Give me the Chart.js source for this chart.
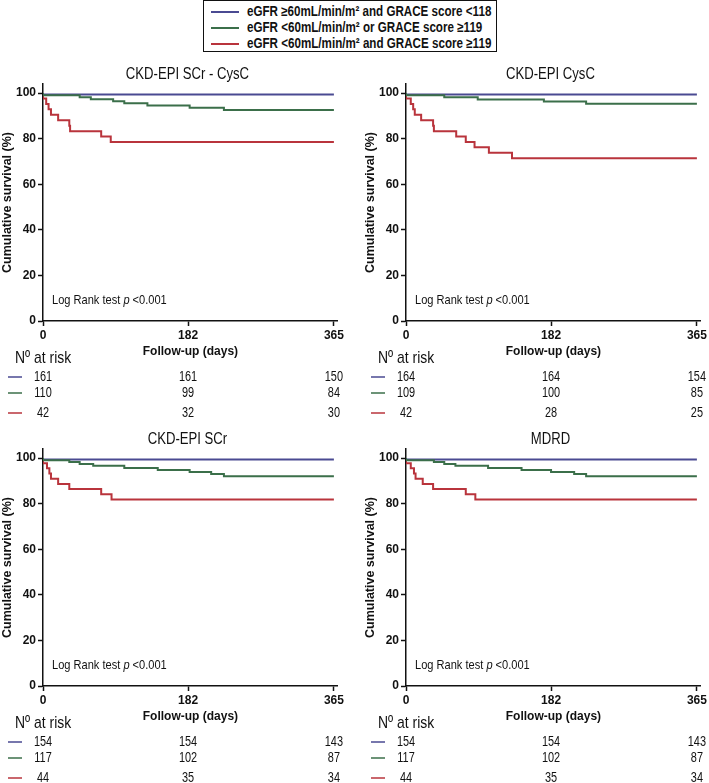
<!DOCTYPE html>
<html>
<head>
<meta charset="utf-8">
<script src="https://cdn.jsdelivr.net/npm/chart.js@4.4.1/dist/chart.umd.min.js"></script>
<style>
  html, body { margin: 0; padding: 0; background: #fff; }
  body { width: 709px; height: 783px; position: relative; overflow: hidden; }
  .panel { position: absolute; }
  #legend {
    position: absolute; left: 203px; top: 0px; width: 292px; height: 50px;
    border: 1.5px solid #111; background: #fff;
    font-family: "Liberation Sans", Arial, sans-serif;
    font-weight: bold; font-size: 14px; color: #111;
  }
  .lg-row { position: absolute; left: 0; height: 16px; line-height: 16px; white-space: nowrap; }
  .lg-swatch { position: absolute; left: 7px; top: 8px; width: 28px; height: 1.6px; }
  .lg-text { position: absolute; left: 43px; top: 0; transform: scaleX(0.83); transform-origin: 0 50%; }
</style>
</head>
<body>
<div id="legend"></div>
<canvas id="c0" class="panel"></canvas>
<canvas id="c1" class="panel"></canvas>
<canvas id="c2" class="panel"></canvas>
<canvas id="c3" class="panel"></canvas>
<script>
// series labels and colours (legend order)
const seriesLabels = [
  "eGFR \u226560mL/min/m\u00b2 and GRACE score <118",
  "eGFR <60mL/min/m\u00b2 or GRACE score \u2265119",
  "eGFR <60mL/min/m\u00b2 and GRACE score \u2265119",
];
const seriesColors = ["#4a4a92", "#3b6f4a", "#b9343c"];

const panelTitles = ["CKD-EPI SCr - CysC", "CKD-EPI CysC", "CKD-EPI SCr", "MDRD"];
const xTicks = [0, 182, 365];
const yTicks = [0, 20, 40, 60, 80, 100];

// Kaplan-Meier steps, [day, survival %]
const scrCysBlue = [[0, 100], [263, 99.4], [365, 99.4]];
const scrCysGreen = [[0, 100], [46, 99.1], [60, 98.2], [88, 97.3], [102, 96.4], [131, 95.5], [184, 94.6], [227, 93.6], [261, 92.6], [365, 92.6]];
const scrCysRed = [[0, 100], [4, 97.6], [7, 95.2], [10, 92.9], [19, 90.5], [33, 88.1], [34, 85.7], [73, 83.3], [85, 81.0], [212, 78.6], [365, 78.6]];

const cysBlue = [[0, 100], [264, 99.4], [365, 99.4]];
const cysGreen = [[0, 100], [48, 99.1], [90, 98.2], [173, 97.2], [226, 96.3], [262, 95.3], [365, 95.3]];
const cysRed = [[0, 100], [6, 97.6], [9, 95.2], [11, 92.9], [19, 90.5], [34, 88.1], [35, 85.7], [63, 83.3], [75, 81.0], [86, 78.6], [104, 76.2], [133, 73.8], [212, 71.4], [365, 71.4]];

const scrBlue = [[0, 100], [263, 99.4], [365, 99.4]];
const scrGreen = [[0, 100], [33, 99.1], [46, 98.3], [63, 97.4], [102, 96.6], [144, 95.7], [184, 94.8], [211, 93.9], [227, 93.0], [263, 92.0], [365, 92.0]];
const scrRed = [[0, 100], [5, 97.7], [8, 95.5], [10, 93.2], [19, 90.9], [33, 88.6], [73, 86.4], [86, 84.1], [89, 81.8], [365, 81.8]];

const mdrdBlue = [[0, 100], [263, 99.4], [365, 99.4]];
const mdrdGreen = [[0, 100], [35, 99.1], [48, 98.3], [62, 97.4], [103, 96.6], [145, 95.7], [182, 94.8], [211, 93.9], [226, 93.0], [261, 92.0], [365, 92.0]];
const mdrdRed = [[0, 100], [6, 97.7], [10, 95.5], [12, 93.2], [21, 90.9], [34, 88.6], [75, 86.4], [87, 84.1], [90, 81.8], [365, 81.8]];

// number at risk at days 0 / 182 / 365
const scrCysRisk = [[161, 161, 150], [110, 99, 84], [42, 32, 30]];
const cysRisk = [[164, 164, 154], [109, 100, 85], [42, 28, 25]];
const scrRisk = [[154, 154, 143], [117, 102, 87], [44, 35, 34]];
const mdrdRisk = [[154, 154, 143], [117, 102, 87], [44, 35, 34]];

const SANS = '"Liberation Sans", Arial, sans-serif';

const panels = [
  { id: "c0", left: 0, top: 60, title: panelTitles[0], series: [scrCysBlue, scrCysGreen, scrCysRed], risk: scrCysRisk },
  { id: "c1", left: 363, top: 60, title: panelTitles[1], series: [cysBlue, cysGreen, cysRed], risk: cysRisk },
  { id: "c2", left: 0, top: 425, title: panelTitles[2], series: [scrBlue, scrGreen, scrRed], risk: scrRisk },
  { id: "c3", left: 363, top: 425, title: panelTitles[3], series: [mdrdBlue, mdrdGreen, mdrdRed], risk: mdrdRisk },
];

// legend box
const legendEl = document.getElementById("legend");
seriesLabels.forEach((label, i) => {
  const row = document.createElement("div");
  row.className = "lg-row";
  row.style.top = (2 + i * 16) + "px";
  row.innerHTML = `<span class="lg-swatch" style="background:${seriesColors[i]}"></span><span class="lg-text"></span>`;
  row.querySelector(".lg-text").textContent = label;
  legendEl.appendChild(row);
});

// no narrow font installed: squeeze Liberation Sans horizontally
function narrowText(ctx, text, x, y, align, font, sx) {
  ctx.save();
  ctx.font = font;
  ctx.textAlign = align;
  ctx.translate(x, y);
  ctx.scale(sx, 1);
  ctx.fillText(text, 0, 0);
  ctx.restore();
}

// titles, p-value, axis caption and at-risk table
const annotations = {
  id: "annotations",
  afterDraw(chart, args, opts) {
    const { ctx, chartArea } = chart;
    const xs = chart.scales.x;
    const axisX = chartArea.left;
    const midX = (chartArea.left + chartArea.right) / 2;
    ctx.save();
    ctx.fillStyle = "#111";
    ctx.textBaseline = "middle";

    narrowText(ctx, opts.title, midX - 3, 15, "center", "16px " + SANS, 0.82);

    // Log Rank test p <0.001
    const sx = 0.82;
    const x0 = axisX + 9;
    ctx.font = "13.5px " + SANS;
    const a = "Log Rank test ";
    const wa = ctx.measureText(a).width * sx;
    narrowText(ctx, a, x0, 240, "left", "13.5px " + SANS, sx);
    ctx.font = "italic 13.5px " + SANS;
    const wp = ctx.measureText("p ").width * sx;
    narrowText(ctx, "p", x0 + wa, 240, "left", "italic 13.5px " + SANS, sx);
    narrowText(ctx, "<0.001", x0 + wa + wp, 240, "left", "13.5px " + SANS, sx);

    ctx.textAlign = "center";
    ctx.font = "bold 12px " + SANS;
    ctx.fillText("Follow-up (days)", midX, 292);

    narrowText(ctx, "N\u00ba at risk", axisX - 28, 298, "left", "17px " + SANS, 0.82);

    const rowY = [317, 333, 353];
    opts.risk.forEach((row, i) => {
      ctx.strokeStyle = seriesColors[i];
      ctx.lineWidth = 1.5;
      ctx.beginPath();
      ctx.moveTo(axisX - 35, rowY[i]);
      ctx.lineTo(axisX - 21, rowY[i]);
      ctx.stroke();
      row.forEach((n, j) => {
        narrowText(ctx, String(n), xs.getPixelForValue(xTicks[j]), rowY[i], "center", "14px " + SANS, 0.78);
      });
    });
    ctx.restore();
  },
};

function makeChart(p) {
  const canvas = document.getElementById(p.id);
  canvas.style.left = p.left + "px";
  canvas.style.top = p.top + "px";
  canvas.width = 346;
  canvas.height = 362;

  const drawOrder = [1, 0, 2]; // green on top, then blue, then red
  const datasets = p.series.map((pts, i) => ({
    label: seriesLabels[i],
    data: pts.map(([x, y]) => ({ x: x, y: y })),
    borderColor: seriesColors[i],
    borderWidth: 2,
    pointRadius: 0,
    stepped: "after",
    fill: false,
    order: drawOrder[i],
  }));

  return new Chart(canvas, {
    type: "line",
    data: { datasets: datasets },
    plugins: [annotations],
    options: {
      responsive: false,
      animation: false,
      layout: { padding: { top: 24, right: 7, left: 0, bottom: 0 } },
      plugins: {
        legend: { display: false },
        tooltip: { enabled: false },
        annotations: { title: p.title, risk: p.risk },
      },
      scales: {
        x: {
          type: "linear",
          min: 0,
          max: 370,
          afterBuildTicks: (s) => { s.ticks = xTicks.map((v) => ({ value: v })); },
          afterFit: (s) => { s.height = 101; },
          border: { color: "#111", width: 1.5 },
          grid: { drawOnChartArea: false, drawTicks: true, tickLength: 5, tickColor: "#111", tickWidth: 1.5 },
          ticks: { color: "#111", font: { family: SANS, size: 12, weight: "bold" }, padding: 2, maxRotation: 0 },
        },
        y: {
          min: 0,
          max: 104,
          afterBuildTicks: (s) => { s.ticks = yTicks.map((v) => ({ value: v })); },
          afterFit: (s) => { s.width = 43; },
          border: { color: "#111", width: 1.5 },
          grid: { drawOnChartArea: false, drawTicks: true, tickLength: 5, tickColor: "#111", tickWidth: 1.5 },
          ticks: { color: "#111", font: { family: SANS, size: 12, weight: "bold" }, padding: 2 },
          title: {
            display: true,
            text: "Cumulative survival (%)",
            color: "#111",
            font: { family: SANS, size: 12.5, weight: "bold" },
            padding: { top: 0, bottom: 0 },
          },
        },
      },
    },
  });
}

panels.forEach((p) => makeChart(p));
</script>
</body>
</html>
